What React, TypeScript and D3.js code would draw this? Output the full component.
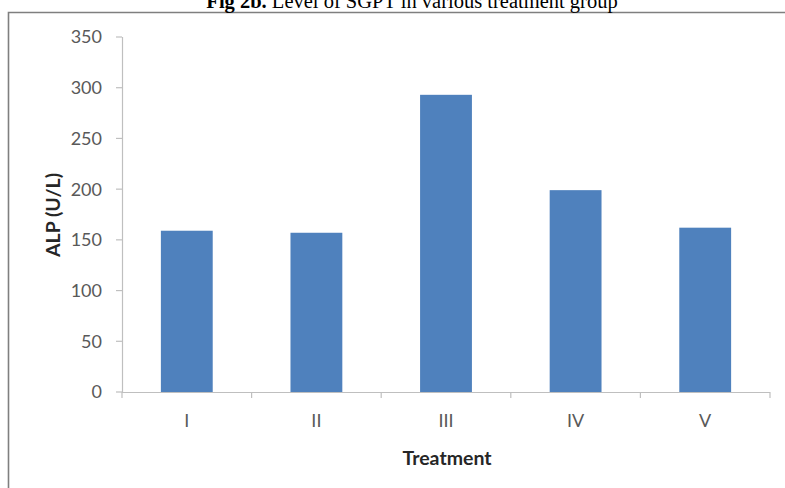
import React, { useEffect, useRef } from "react";
import * as d3 from "d3";

const categories = ["I", "II", "III", "IV", "V"];
const alpValues = [159, 157, 293, 199, 162];
const yTicks = [0, 50, 100, 150, 200, 250, 300, 350];

const W = 785;
const H = 488;

export default function App() {
  const ref = useRef<SVGSVGElement | null>(null);

  useEffect(() => {
    const svg = d3.select(ref.current);
    svg.selectAll("*").remove();

    const left = 122;
    const right = 770;
    const top = 37;
    const bottom = 392;

    const x = d3
      .scaleBand<string>()
      .domain(categories)
      .range([left, right])
      .paddingInner(0.6)
      .paddingOuter(0.3);
    const y = d3.scaleLinear().domain([0, 350]).range([bottom, top]);

    const font = "Lato, 'Open Sans', sans-serif";
    const axisColor = "#bfbfbf";
    const labelColor = "#595959";

    svg.append("rect").attr("width", W).attr("height", H).attr("fill", "#fff");

    // outer frame
    svg
      .append("path")
      .attr("d", `M8.5,${H} V12.5 H${W}`)
      .attr("fill", "none")
      .attr("stroke", "#7f7f7f")
      .attr("stroke-width", 1.6);

    // title (its top runs past the page edge)
    const title = svg
      .append("text")
      .attr("x", 412)
      .attr("y", 8)
      .attr("text-anchor", "middle")
      .attr("font-family", "'Liberation Serif', 'Times New Roman', serif")
      .attr("font-size", 20.5)
      .attr("fill", "#000");
    title.append("tspan").attr("font-weight", "bold").text("Fig 2b.");
    title.append("tspan").text(" Level of SGPT in various treatment group");

    // y axis
    const yAxis = svg.append("g");
    yAxis
      .append("line")
      .attr("x1", left + 0.5)
      .attr("x2", left + 0.5)
      .attr("y1", top)
      .attr("y2", bottom)
      .attr("stroke", axisColor)
      .attr("stroke-width", 1.2);
    yTicks.forEach((t) => {
      yAxis
        .append("line")
        .attr("x1", left - 6)
        .attr("x2", left)
        .attr("y1", y(t))
        .attr("y2", y(t))
        .attr("stroke", axisColor)
        .attr("stroke-width", 1.2);
      yAxis
        .append("text")
        .attr("x", 102)
        .attr("y", y(t))
        .attr("dy", "0.36em")
        .attr("text-anchor", "end")
        .attr("font-family", font)
        .attr("font-size", 18)
        .attr("fill", labelColor)
        .text(t);
    });

    // bars
    svg
      .append("g")
      .selectAll("rect")
      .data(alpValues)
      .join("rect")
      .attr("x", (_, i) => x(categories[i]) as number)
      .attr("width", x.bandwidth())
      .attr("y", (d) => y(d))
      .attr("height", (d) => bottom - y(d))
      .attr("fill", "#4f81bd");

    // x axis
    const xAxis = svg.append("g");
    xAxis
      .append("line")
      .attr("x1", left)
      .attr("x2", right)
      .attr("y1", bottom + 0.5)
      .attr("y2", bottom + 0.5)
      .attr("stroke", axisColor)
      .attr("stroke-width", 1.2);
    const step = x.step();
    d3.range(categories.length + 1).forEach((i) => {
      const px = left + i * step;
      xAxis
        .append("line")
        .attr("x1", px)
        .attr("x2", px)
        .attr("y1", bottom)
        .attr("y2", bottom + 6)
        .attr("stroke", axisColor)
        .attr("stroke-width", 1.2);
    });
    categories.forEach((c) => {
      xAxis
        .append("text")
        .attr("x", (x(c) as number) + x.bandwidth() / 2)
        .attr("y", 427)
        .attr("text-anchor", "middle")
        .attr("font-family", font)
        .attr("font-size", 18)
        .attr("fill", labelColor)
        .text(c);
    });

    // axis titles
    svg
      .append("text")
      .attr("x", 447)
      .attr("y", 465)
      .attr("text-anchor", "middle")
      .attr("font-family", font)
      .attr("font-size", 19.5)
      .attr("font-weight", "bold")
      .attr("fill", "#262626")
      .text("Treatment");
    svg
      .append("text")
      .attr("transform", "translate(60,215) rotate(-90)")
      .attr("text-anchor", "middle")
      .attr("font-family", font)
      .attr("font-size", 19.5)
      .attr("font-weight", "bold")
      .attr("fill", "#262626")
      .text("ALP (U/L)");
  }, []);

  return (
    <svg
      ref={ref}
      width={W}
      height={H}
      style={{ position: "absolute", left: 0, top: 0, display: "block" }}
    />
  );
}
